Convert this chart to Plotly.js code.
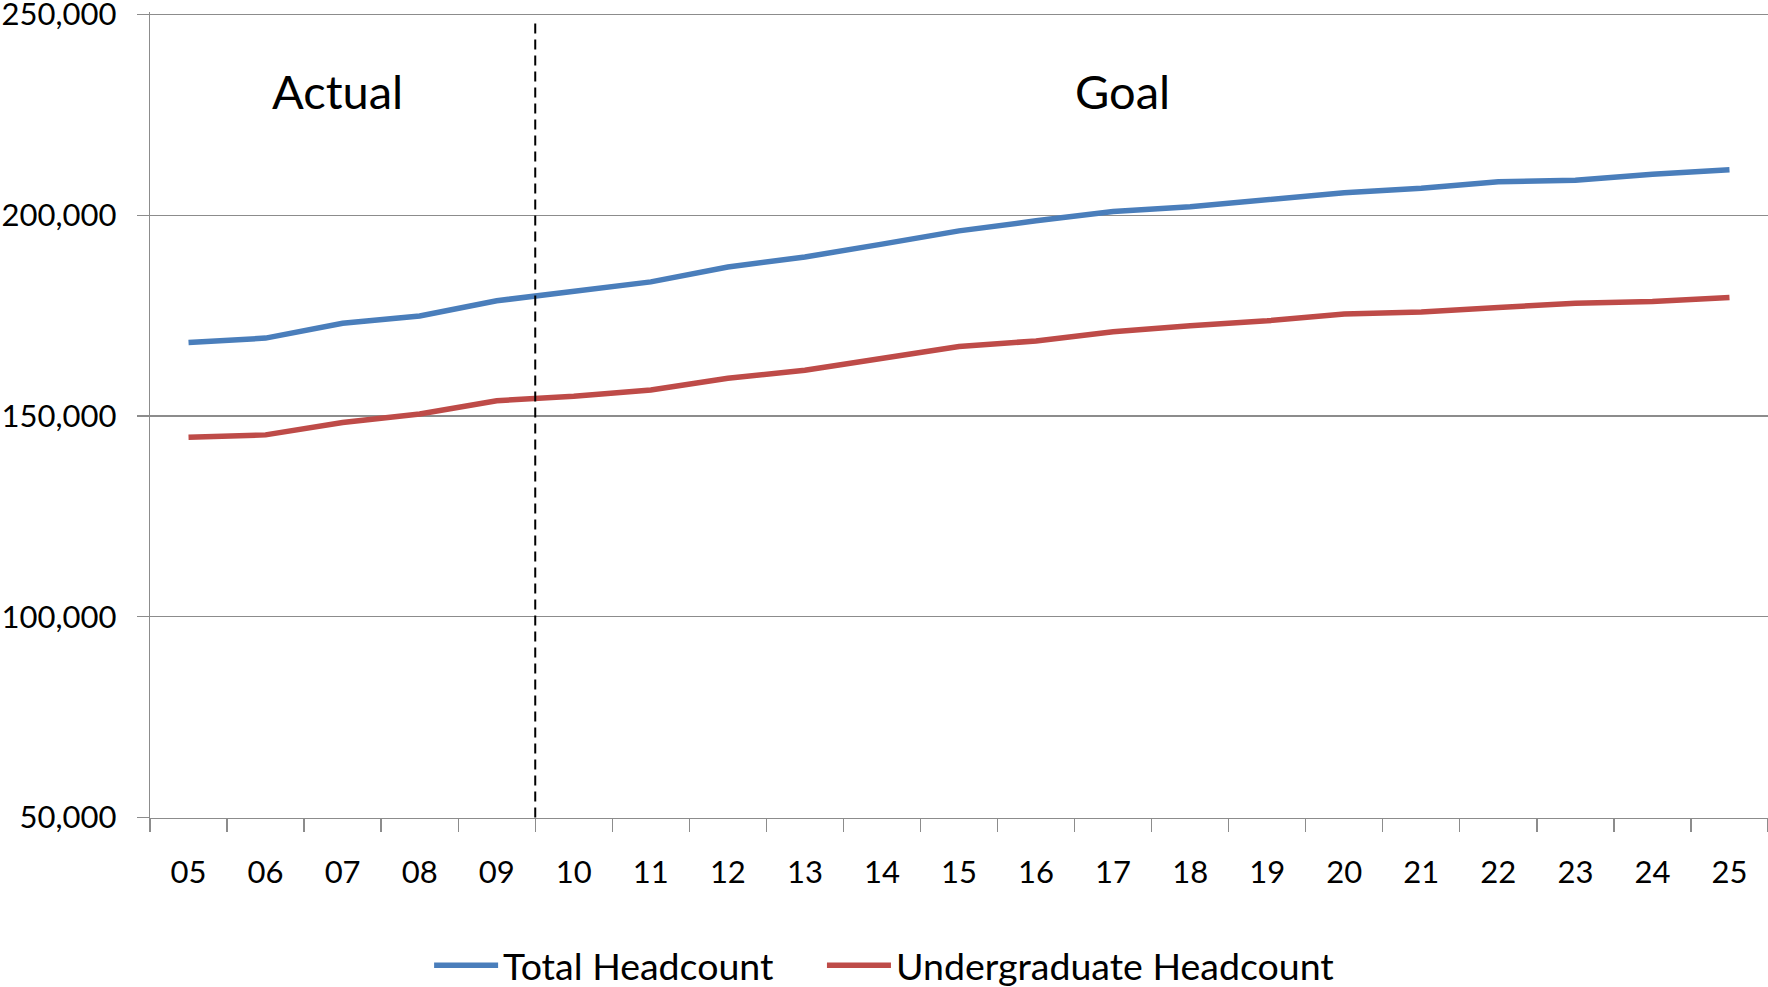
<!DOCTYPE html>
<html>
<head>
<meta charset="utf-8">
<script src="https://cdn.plot.ly/plotly-3.0.1.min.js"></script>
<style>
  html, body { margin: 0; padding: 0; background: #ffffff; }
  #chart { width: 1768px; height: 987px; }
</style>
</head>
<body>
<div id="chart"></div>
<script>
// ---- data ----
const years = ['05','06','07','08','09','10','11','12','13','14','15','16','17','18','19','20','21','22','23','24','25'];
const totalHeadcount = [168300, 169400, 173100, 174900, 178700, 181000, 183400, 187100, 189600, 192800, 196100, 198600, 200900, 202100, 204000, 205600, 206700, 208300, 208700, 210200, 211300];
const undergradHeadcount = [144700, 145300, 148400, 150500, 153800, 154900, 156500, 159400, 161400, 164400, 167300, 168700, 171000, 172500, 173700, 175400, 175900, 177000, 178100, 178500, 179500];
const actualYearCount = 5;           // 05..09 are actuals
const yTicks = [50000, 100000, 150000, 200000, 250000];
const seriesNames = ['Total Headcount', 'Undergraduate Headcount'];
const regionLabels = ['Actual', 'Goal'];

const FONT = 'Lato, Calibri, Carlito, "Open Sans", sans-serif';
const GRID = '#8c8c8c';

const traces = [
  {
    type: 'scatter', mode: 'lines', name: seriesNames[0], legend: 'legend',
    x: years, y: totalHeadcount,
    line: { color: '#4A7EBB', width: 5.5 }
  },
  {
    type: 'scatter', mode: 'lines', name: seriesNames[1], legend: 'legend2',
    x: years, y: undergradHeadcount,
    line: { color: '#BE4B48', width: 5.5 }
  }
];

const splitX = actualYearCount - 0.5;
const legendStyle = {
  orientation: 'h', xanchor: 'left', y: -0.183, yanchor: 'middle',
  font: { family: FONT, size: 37.5, color: '#000000' },
  itemwidth: 64, bgcolor: 'rgba(0,0,0,0)', borderwidth: 0
};

const layout = {
  width: 1768, height: 987,
  margin: { l: 150, r: 0, t: 12, b: 169, pad: 0, autoexpand: false },
  paper_bgcolor: '#ffffff', plot_bgcolor: '#ffffff',
  font: { family: FONT, color: '#000000', size: 31 },
  showlegend: true,
  legend: Object.assign({}, legendStyle, { x: 0.1725 }),
  legend2: Object.assign({}, legendStyle, { x: 0.4153 }),
  xaxis: {
    type: 'category', categoryorder: 'array', categoryarray: years,
    range: [-0.5, years.length - 0.5],
    tickson: 'boundaries', ticks: 'outside', ticklen: 13, tickwidth: 1.3, tickcolor: GRID,
    showline: true, linecolor: GRID, linewidth: 1.3,
    showgrid: false, zeroline: false,
    tickfont: { family: FONT, size: 31, color: '#000000' },
    ticklabelstandoff: 26, ticklabeloverflow: 'allow'
  },
  yaxis: {
    range: [49900, 250600], tickvals: yTicks, tickformat: ',d',
    ticks: 'outside', ticklen: 12, tickwidth: 1.3, tickcolor: GRID,
    showline: true, linecolor: GRID, linewidth: 1.3,
    showgrid: true, gridcolor: GRID, gridwidth: 1.3, zeroline: false,
    tickfont: { family: FONT, size: 31, color: '#000000' },
    ticklabelstandoff: 14, ticklabeloverflow: 'allow'
  },
  shapes: [
    {
      type: 'line', xref: 'x', yref: 'y', layer: 'above',
      x0: splitX, x1: splitX, y0: 50000, y1: 248700,
      line: { color: '#000000', width: 2, dash: '10px,6px' }
    }
  ],
  annotations: [
    { text: regionLabels[0], xref: 'x', yref: 'y', x: 1.93, y: 230900, showarrow: false,
      xanchor: 'center', yanchor: 'middle', font: { family: FONT, size: 47, color: '#000000' } },
    { text: regionLabels[1], xref: 'x', yref: 'y', x: 12.12, y: 230900, showarrow: false,
      xanchor: 'center', yanchor: 'middle', font: { family: FONT, size: 47, color: '#000000' } }
  ]
};

Plotly.newPlot('chart', traces, layout, { staticPlot: true, displayModeBar: false });
</script>
</body>
</html>
